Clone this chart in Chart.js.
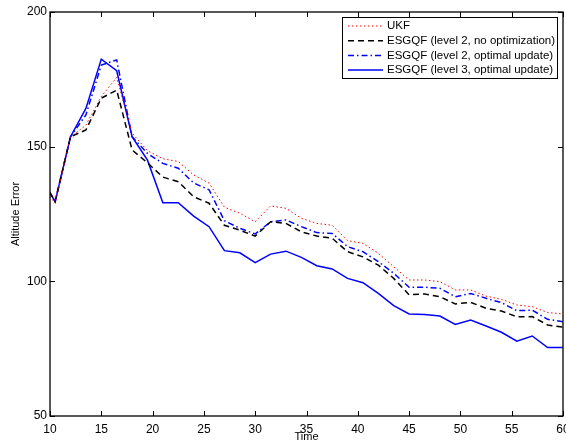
<!DOCTYPE html>
<html>
<head>
<meta charset="utf-8">
<script src="https://cdn.jsdelivr.net/npm/chart.js@4/dist/chart.umd.min.js"></script>
<style>
  html, body { margin: 0; padding: 0; background: #fff; }
  canvas { display: block; }
</style>
</head>
<body>
<canvas id="chart" width="566" height="444"></canvas>
<script>
// Time steps (first one sits left of the axis and gets clipped, like the original)
const times = [9, 10.5, 12, 13.5, 15, 16.5, 18, 19.5, 21, 22.5, 24, 25.5, 27, 28.5, 30, 31.5, 33, 34.5,
  36, 37.5, 39, 40.5, 42, 43.5, 45, 46.5, 48, 49.5, 51, 52.5, 54, 55.5, 57, 58.5, 60];

const ukf = [136.2, 129, 153.5, 158, 168.6, 175.7, 155, 148.5, 145.5, 144.5, 139.5, 136.5, 127.5, 125.3,
  122.1, 128, 127.1, 123.4, 121.5, 120.8, 115.1, 114.1, 110.4, 105.4, 100.5, 100.5, 99.9, 96.8, 96.8,
  94.5, 93.3, 91.2, 90.6, 88.4, 87.9];

const esgqfL2NoOpt = [139.5, 129.6, 153.7, 156.2, 168, 171, 148.8, 144, 138.7, 137, 131.4, 129, 120.8,
  119, 116.8, 122.1, 121.5, 118.4, 116.8, 116, 111, 109.1, 106, 101.1, 95, 95.3, 94.3, 91.6, 92.2, 90,
  89, 86.8, 86.9, 83.8, 83];

const esgqfL2Opt = [139.5, 129.6, 153.7, 161.8, 180.3, 182.2, 153.7, 147.5, 143.8, 142, 136.5, 134, 122.5,
  119.7, 117.6, 122.1, 122.8, 120.3, 118.1, 117.8, 112.9, 111, 107.3, 103, 97.8, 97.8, 97.4, 94.3, 95.5,
  93.7, 92.1, 89.1, 89.3, 85.9, 85];

const esgqfL3Opt = [139.5, 129.6, 153.7, 164.2, 182.5, 178.2, 153.7, 145, 129.2, 129.2, 124.2, 120.3, 111.4,
  110.6, 106.9, 110.1, 111.2, 108.9, 105.8, 104.6, 101.1, 99.5, 95.5, 91, 87.9, 87.7, 87.1, 84, 85.6,
  83.4, 81.1, 77.8, 79.7, 75.4, 75.4];

const xTicks = [10, 15, 20, 25, 30, 35, 40, 45, 50, 55, 60];
const yTicks = [50, 100, 150, 200];

const FONT = '"Liberation Sans", Arial, Helvetica, sans-serif';

function toPoints(values) {
  return values.map((v, i) => ({ x: times[i], y: v }));
}

// MATLAB-like box, inward ticks on all four sides, and legend in the top right corner
const matlabFrame = {
  id: 'matlabFrame',
  afterDatasetsDraw(chart) {
    const { ctx, chartArea: a, scales } = chart;
    const tick = 5;
    ctx.save();
    ctx.strokeStyle = '#000';
    ctx.lineWidth = 1.3;
    ctx.strokeRect(a.left, a.top, a.right - a.left, a.bottom - a.top);

    ctx.lineWidth = 1;
    ctx.beginPath();
    xTicks.forEach((t) => {
      const px = Math.round(scales.x.getPixelForValue(t)) + 0.5;
      ctx.moveTo(px, a.bottom); ctx.lineTo(px, a.bottom - tick);
      ctx.moveTo(px, a.top); ctx.lineTo(px, a.top + tick);
    });
    yTicks.forEach((t) => {
      const py = Math.round(scales.y.getPixelForValue(t)) + 0.5;
      ctx.moveTo(a.left, py); ctx.lineTo(a.left + tick, py);
      ctx.moveTo(a.right, py); ctx.lineTo(a.right - tick, py);
    });
    ctx.stroke();

    // legend
    const box = { left: 342, top: 17, right: 557, bottom: 78 };
    ctx.fillStyle = '#fff';
    ctx.fillRect(box.left, box.top, box.right - box.left, box.bottom - box.top);
    ctx.strokeStyle = '#000';
    ctx.lineWidth = 1;
    ctx.strokeRect(box.left + 0.5, box.top + 0.5, box.right - box.left, box.bottom - box.top);

    ctx.font = '11.5px ' + FONT;
    ctx.textBaseline = 'middle';
    ctx.textAlign = 'left';
    chart.data.datasets.forEach((ds, i) => {
      const y = 26 + i * 14.7;
      ctx.save();
      ctx.strokeStyle = ds.borderColor;
      ctx.lineWidth = ds.borderWidth;
      ctx.setLineDash(ds.borderDash || []);
      ctx.beginPath();
      ctx.moveTo(348, y);
      ctx.lineTo(383, y);
      ctx.stroke();
      ctx.restore();
      ctx.fillStyle = '#000';
      ctx.fillText(ds.label, 387, y);
    });
    ctx.restore();
  },
};

new Chart(document.getElementById('chart'), {
  type: 'line',
  data: {
    datasets: [
      {
        label: 'UKF',
        data: toPoints(ukf),
        borderColor: 'rgb(255, 0, 0)',
        borderWidth: 1,
        borderDash: [1.5, 2.5],
      },
      {
        label: 'ESGQF (level 2, no optimization)',
        data: toPoints(esgqfL2NoOpt),
        borderColor: 'rgb(0, 0, 0)',
        borderWidth: 1.5,
        borderDash: [6, 4],
      },
      {
        label: 'ESGQF (level 2, optimal update)',
        data: toPoints(esgqfL2Opt),
        borderColor: 'rgb(0, 0, 255)',
        borderWidth: 1.5,
        borderDash: [6, 3, 1.5, 3],
      },
      {
        label: 'ESGQF (level 3, optimal update)',
        data: toPoints(esgqfL3Opt),
        borderColor: 'rgb(0, 0, 255)',
        borderWidth: 1.5,
      },
    ],
  },
  options: {
    responsive: false,
    animation: false,
    layout: { padding: { top: 12, right: 3, left: 0, bottom: 0 } },
    elements: {
      point: { radius: 0 },
      line: { tension: 0, borderCapStyle: 'butt' },
    },
    plugins: {
      legend: { display: false },
      tooltip: { enabled: false },
    },
    scales: {
      x: {
        type: 'linear',
        min: 10,
        max: 60,
        grid: { display: false, drawTicks: false },
        border: { display: false },
        afterBuildTicks(scale) {
          scale.ticks = xTicks.map((v) => ({ value: v }));
        },
        afterFit(scale) {
          scale.height = 28;
          scale.paddingLeft = 0;
          scale.paddingRight = 0;
        },
        ticks: {
          color: '#000',
          padding: 6,
          maxRotation: 0,
          font: { family: FONT, size: 12 },
        },
        title: {
          display: true,
          text: 'Time',
          color: '#000',
          padding: { top: 0, bottom: 0 },
          font: { family: FONT, size: 11 },
        },
      },
      y: {
        min: 50,
        max: 200,
        grid: { display: false, drawTicks: false },
        border: { display: false },
        afterBuildTicks(scale) {
          scale.ticks = yTicks.map((v) => ({ value: v }));
        },
        afterFit(scale) {
          scale.width = 50;
          scale.paddingTop = 0;
          scale.paddingBottom = 0;
        },
        ticks: {
          color: '#000',
          padding: 3,
          font: { family: FONT, size: 12 },
        },
        title: {
          display: true,
          text: 'Altitude Error',
          color: '#000',
          padding: { top: 9, bottom: 0 },
          font: { family: FONT, size: 11 },
        },
      },
    },
  },
  plugins: [matlabFrame],
});
</script>
</body>
</html>
